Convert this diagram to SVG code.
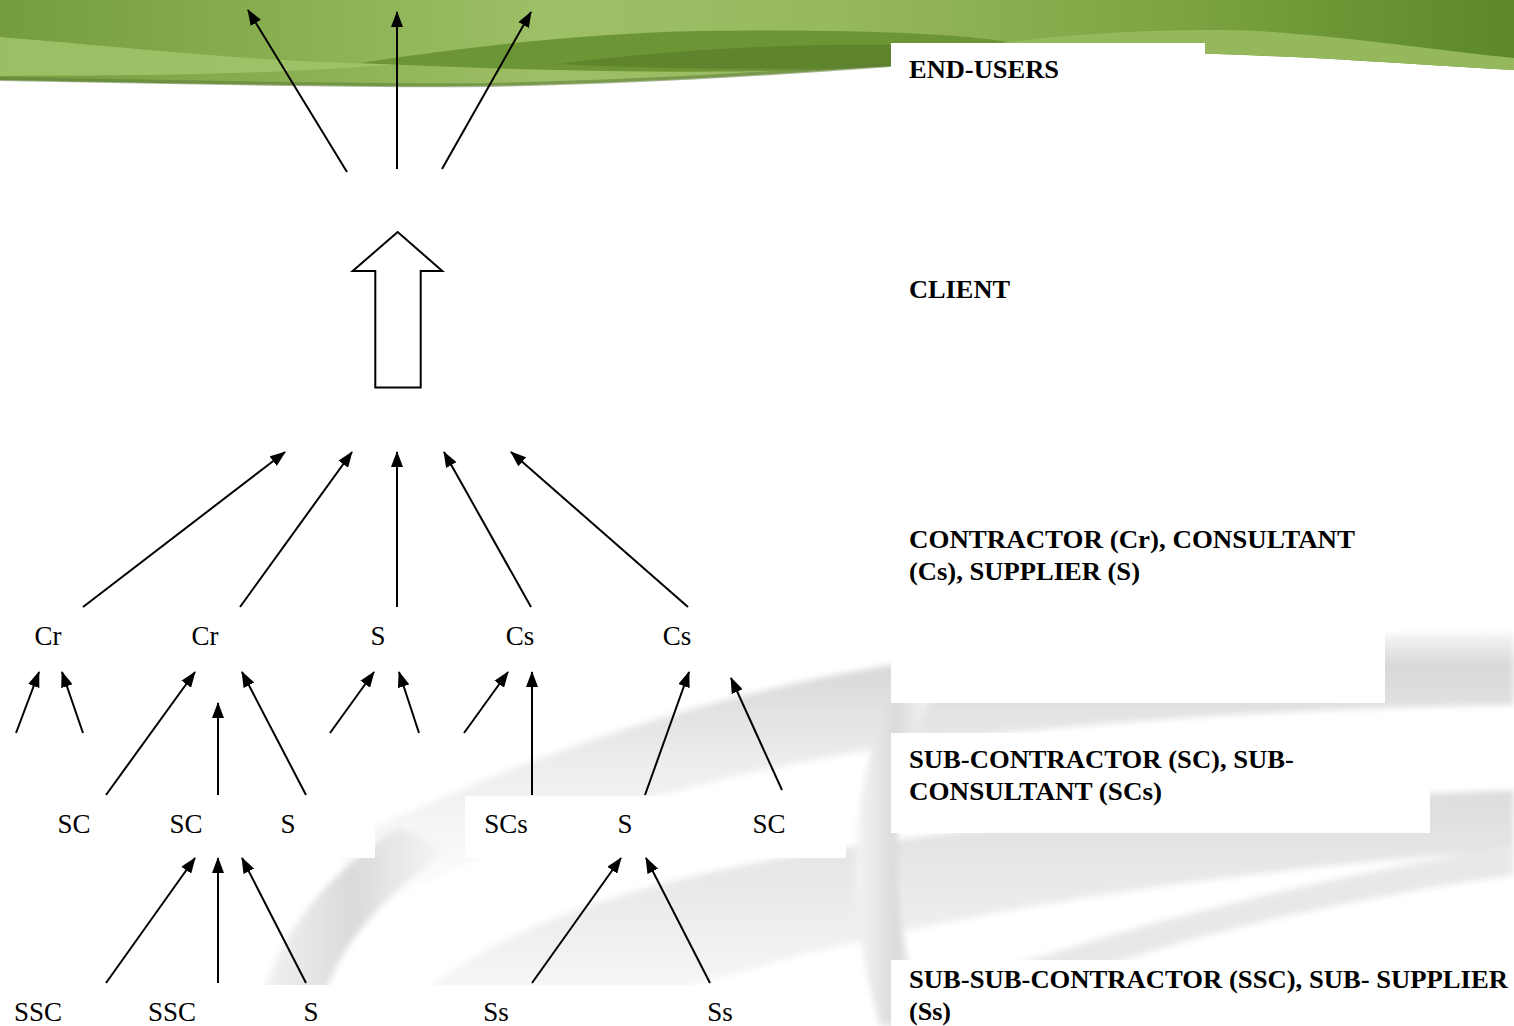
<svg xmlns="http://www.w3.org/2000/svg" width="1514" height="1026" viewBox="0 0 1514 1026">
  <style>
    .node { font-family: "Liberation Serif", "Times New Roman", serif; font-size: 27px; fill: #000; text-anchor: middle; }
    .tier { font-family: "Liberation Serif", "Times New Roman", serif; font-size: 26px; font-weight: bold; fill: #000; }
    .link { stroke: #000; stroke-width: 2; fill: none; marker-end: url(#head); }
    .box { fill: #fff; }
  </style>
  <defs>
    <marker id="head" markerUnits="userSpaceOnUse" markerWidth="16" markerHeight="12" refX="15" refY="6" orient="auto">
      <path d="M0,0 L16,6 L0,12 Z" fill="#000"/>
    </marker>
    <linearGradient id="bannerGrad" x1="0" y1="0" x2="1" y2="0">
      <stop offset="0" stop-color="#739d3e"/>
      <stop offset="0.18" stop-color="#88ae50"/>
      <stop offset="0.36" stop-color="#9dbf66"/>
      <stop offset="0.55" stop-color="#97b95e"/>
      <stop offset="0.78" stop-color="#7ba341"/>
      <stop offset="1" stop-color="#5c8827"/>
    </linearGradient>
    <linearGradient id="streak" x1="0" y1="0" x2="0" y2="1">
      <stop offset="0" stop-color="#f6f6f6"/>
      <stop offset="0.12" stop-color="#d8d8d8"/>
      <stop offset="0.5" stop-color="#eeeeee"/>
      <stop offset="1" stop-color="#ffffff"/>
    </linearGradient>
    <linearGradient id="sideShade" x1="0" y1="0" x2="1" y2="0">
      <stop offset="0" stop-color="#f5f5f5"/>
      <stop offset="0.5" stop-color="#dadada"/>
      <stop offset="1" stop-color="#f8f8f8"/>
    </linearGradient>
    <linearGradient id="lowBand" x1="0" y1="0" x2="0" y2="1">
      <stop offset="0" stop-color="#dddddd"/>
      <stop offset="0.6" stop-color="#efefef"/>
      <stop offset="1" stop-color="#fbfbfb"/>
    </linearGradient>
    <filter id="soft" x="-5%" y="-5%" width="110%" height="110%">
      <feGaussianBlur stdDeviation="3"/>
    </filter>
  </defs>

  <rect width="1514" height="1026" fill="#fff"/>

  <!-- green header band -->
  <g id="header">
    <path d="M0,0 H1514 V70 C1400,64 1260,52 1100,52 C1000,52 950,60 891,66 C700,80 520,88 380,86 C250,85 100,82 0,80 Z" fill="url(#bannerGrad)"/>
    <path d="M0,37 C90,44 200,56 300,61 C340,63 370,64 400,64 C300,72 200,76 0,76 Z" fill="#a1c46b" opacity="0.85"/>
    <path d="M360,63 C470,46 590,33 700,31 C850,29 950,33 1010,42 C960,50 925,58 891,66 C780,74 600,74 360,63 Z" fill="#6c9535"/>
    <path d="M560,64 C680,48 820,42 930,46 C910,54 900,60 891,66 C800,70 680,70 560,64 Z" fill="#5b7f2b" opacity="0.8"/>
    <path d="M1000,43 C1090,31 1190,28 1260,31 C1360,38 1450,52 1514,58 V70 C1400,64 1260,52 1100,52 C1060,52 1030,48 1000,43 Z" fill="#94b85b"/>
    <path d="M0,79 C100,81 250,84 380,85 C520,87 700,79 891,65" fill="none" stroke="#5e7c3a" stroke-width="4" opacity="0.55"/>
  </g>

  <!-- grey swoosh backdrop -->
  <g id="backdrop" filter="url(#soft)">
    <path d="M330,846 C450,790 650,700 900,662 C1100,640 1300,632 1514,632 L1514,705 C1300,708 1100,720 900,745 C700,775 500,835 390,905 Z" fill="url(#streak)"/>
    <path d="M330,846 C450,790 650,700 900,662 C1100,640 1300,632 1514,632" fill="none" stroke="#ffffff" stroke-width="3"/>
    <path d="M255,1026 C268,950 320,875 400,828 L450,850 C375,900 325,960 318,1026 Z" fill="url(#sideShade)"/>
    <path d="M390,1026 C460,940 610,890 770,860 C1000,820 1250,800 1514,790 L1514,850 C1250,868 1000,905 800,955 C660,995 580,1015 540,1026 Z" fill="url(#lowBand)"/>
    <path d="M895,690 C850,780 842,900 880,1026 L925,1026 C885,900 888,780 935,690 Z" fill="url(#sideShade)"/>
    <path d="M900,1005 C1100,930 1300,882 1514,845 L1514,875 C1300,905 1100,955 960,1026 L900,1026 Z" fill="#e8e8e8"/>
  </g>

  <!-- label backing panels -->
  <g id="panels">
    <rect class="box" x="891" y="43" width="314" height="60"/>
    <rect class="box" x="891" y="600" width="494" height="103"/>
    <rect class="box" x="891" y="733" width="539" height="100"/>
    <rect class="box" x="891" y="960" width="623" height="66"/>
    <rect class="box" x="0" y="796" width="375" height="62"/>
    <rect class="box" x="465" y="796" width="246" height="62"/>
    <rect class="box" x="734" y="796" width="112" height="62"/>
    <rect class="box" x="253" y="985" width="517" height="41"/>
  </g>

  <!-- connectors -->
  <g id="connectors">
    <line class="link" x1="347" y1="172" x2="248" y2="10"/>
    <line class="link" x1="397" y1="169" x2="397" y2="12"/>
    <line class="link" x1="442" y1="169" x2="531" y2="12"/>

    <polygon points="397.7,232 352.7,271 375.3,271 375.3,387.5 420.7,387.5 420.7,271 442.3,271" fill="#fff" stroke="#000" stroke-width="2" stroke-linejoin="miter"/>

    <line class="link" x1="83" y1="607" x2="285" y2="452"/>
    <line class="link" x1="240" y1="607" x2="352" y2="452"/>
    <line class="link" x1="397" y1="607" x2="397" y2="452"/>
    <line class="link" x1="531" y1="607" x2="444" y2="452"/>
    <line class="link" x1="688" y1="607" x2="511" y2="452"/>

    <line class="link" x1="16" y1="733" x2="39" y2="672"/>
    <line class="link" x1="83" y1="733" x2="62" y2="672"/>
    <line class="link" x1="106" y1="795" x2="195" y2="672"/>
    <line class="link" x1="218" y1="795" x2="218" y2="703"/>
    <line class="link" x1="306" y1="795" x2="242" y2="672"/>
    <line class="link" x1="330" y1="733" x2="374" y2="672"/>
    <line class="link" x1="419" y1="733" x2="399" y2="672"/>
    <line class="link" x1="464" y1="733" x2="508" y2="672"/>
    <line class="link" x1="532" y1="795" x2="532" y2="672"/>
    <line class="link" x1="645" y1="795" x2="689" y2="672"/>
    <line class="link" x1="782" y1="790" x2="731" y2="678"/>

    <line class="link" x1="106" y1="983" x2="195" y2="858"/>
    <line class="link" x1="218" y1="983" x2="218" y2="858"/>
    <line class="link" x1="306" y1="983" x2="242" y2="858"/>
    <line class="link" x1="532" y1="983" x2="621" y2="858"/>
    <line class="link" x1="710" y1="983" x2="646" y2="858"/>
  </g>

  <!-- tier 1 -->
  <g id="cr1"><text class="node" x="48" y="645">Cr</text></g>
  <g id="cr2"><text class="node" x="205" y="645">Cr</text></g>
  <g id="s1"><text class="node" x="378" y="645">S</text></g>
  <g id="cs1"><text class="node" x="520" y="645">Cs</text></g>
  <g id="cs2"><text class="node" x="677" y="645">Cs</text></g>

  <!-- tier 2 -->
  <g id="sc1"><text class="node" x="74" y="833">SC</text></g>
  <g id="sc2"><text class="node" x="186" y="833">SC</text></g>
  <g id="s2"><text class="node" x="288" y="833">S</text></g>
  <g id="scs1"><text class="node" x="506" y="833">SCs</text></g>
  <g id="s3"><text class="node" x="625" y="833">S</text></g>
  <g id="sc3"><text class="node" x="769" y="833">SC</text></g>

  <!-- tier 3 -->
  <g id="ssc1"><text class="node" x="38" y="1021">SSC</text></g>
  <g id="ssc2"><text class="node" x="172" y="1021">SSC</text></g>
  <g id="s4"><text class="node" x="311" y="1021">S</text></g>
  <g id="ss1"><text class="node" x="496" y="1021">Ss</text></g>
  <g id="ss2"><text class="node" x="720" y="1021">Ss</text></g>

  <!-- tier legend -->
  <g id="legend-endusers"><text class="tier" x="909" y="78" textLength="150" lengthAdjust="spacingAndGlyphs">END-USERS</text></g>
  <g id="legend-client"><text class="tier" x="909" y="298" textLength="101" lengthAdjust="spacingAndGlyphs">CLIENT</text></g>
  <g id="legend-contractor">
    <text class="tier" x="909" y="548" textLength="446" lengthAdjust="spacingAndGlyphs">CONTRACTOR (Cr), CONSULTANT</text>
    <text class="tier" x="909" y="580" textLength="231" lengthAdjust="spacingAndGlyphs">(Cs), SUPPLIER (S)</text>
  </g>
  <g id="legend-sub">
    <text class="tier" x="909" y="768" textLength="385" lengthAdjust="spacingAndGlyphs">SUB-CONTRACTOR (SC), SUB-</text>
    <text class="tier" x="909" y="800" textLength="253" lengthAdjust="spacingAndGlyphs">CONSULTANT (SCs)</text>
  </g>
  <g id="legend-subsub">
    <text class="tier" x="909" y="988" textLength="599" lengthAdjust="spacingAndGlyphs">SUB-SUB-CONTRACTOR (SSC), SUB- SUPPLIER</text>
    <text class="tier" x="909" y="1020" textLength="42" lengthAdjust="spacingAndGlyphs">(Ss)</text>
  </g>
</svg>
